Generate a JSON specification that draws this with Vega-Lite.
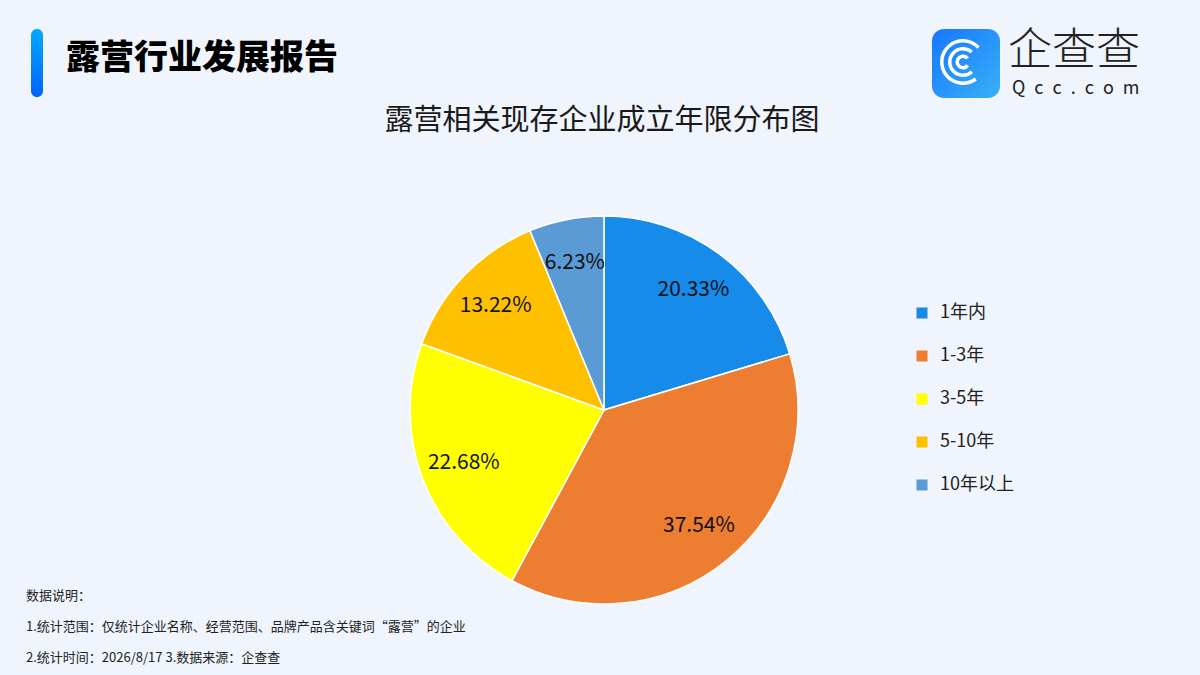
{
  "$schema": "https://vega.github.io/schema/vega-lite/v6.json",
  "width": 1200,
  "height": 675,
  "autosize": {"type": "fit", "contains": "padding"},
  "padding": 0,
  "background": "#F0F4FC",
  "config": {"view": {"stroke": null}, "font": "Noto Sans CJK SC"},
  "layer": [
    {
      "data": {"values": [
        {"idx": 1, "age": "1年内", "share": 0.2033},
        {"idx": 2, "age": "1-3年", "share": 0.3754},
        {"idx": 3, "age": "3-5年", "share": 0.2268},
        {"idx": 4, "age": "5-10年", "share": 0.1322},
        {"idx": 5, "age": "10年以上", "share": 0.0623}
      ]},
      "encoding": {
        "theta": {"field": "share", "type": "quantitative", "stack": true},
        "order": {"field": "idx", "type": "quantitative"}
      },
      "layer": [
        {
          "mark": {"type": "arc", "x": 603, "y": 409, "radius": 194, "stroke": "white", "strokeWidth": 1.5},
          "encoding": {
            "color": {
              "field": "age",
              "type": "nominal",
              "scale": {
                "domain": ["1年内", "1-3年", "3-5年", "5-10年", "10年以上"],
                "range": ["#168BEA", "#ED7D31", "#FFFF00", "#FFC000", "#5B9BD5"]
              },
              "legend": {
                "orient": "none",
                "legendX": 912,
                "legendY": 303,
                "title": null,
                "symbolType": "square",
                "symbolSize": 121,
                "symbolStrokeWidth": 0,
                "labelFontSize": 18,
                "labelColor": "#222222",
                "labelOffset": 9,
                "rowPadding": 25
              }
            }
          }
        },
        {
          "mark": {"type": "text", "x": 603, "y": 409, "radius": 150, "fontSize": 21, "color": "#111111"},
          "encoding": {
            "text": {"field": "share", "type": "quantitative", "format": ".2%"}
          }
        }
      ]
    },
    {
      "data": {"values": [{}]},
      "layer": [
        {
          "mark": {
            "type": "rect", "x": 30, "x2": 42, "y": 28, "y2": 96, "cornerRadius": 6,
            "fill": {"gradient": "linear", "x1": 0, "y1": 0, "x2": 0, "y2": 1,
              "stops": [{"offset": 0, "color": "#00A9FF"}, {"offset": 1, "color": "#0064FF"}]}
          }
        },
        {
          "mark": {"type": "text", "x": 65, "y": 58, "align": "left", "baseline": "middle",
            "text": "露营行业发展报告", "fontSize": 34, "fontWeight": 900, "color": "#000000"}
        },
        {
          "mark": {"type": "text", "x": 601, "y": 120, "align": "center", "baseline": "middle",
            "text": "露营相关现存企业成立年限分布图", "fontSize": 29, "color": "#1A1A1A"}
        },
        {
          "mark": {
            "type": "rect", "x": 931, "x2": 999, "y": 28, "y2": 97, "cornerRadius": 12,
            "fill": {"gradient": "linear", "x1": 0, "y1": 0, "x2": 1, "y2": 1,
              "stops": [{"offset": 0, "color": "#1577FF"}, {"offset": 1, "color": "#3BB0F5"}]}
          }
        },
        {
          "mark": {"type": "arc", "x": 962, "y": 61, "innerRadius": 19.5, "outerRadius": 23,
            "theta": 2.5, "theta2": 7.1, "fill": "white"}
        },
        {
          "mark": {"type": "arc", "x": 962, "y": 61, "innerRadius": 11.5, "outerRadius": 15,
            "theta": 2.4, "theta2": 7.0, "fill": "white"}
        },
        {
          "mark": {"type": "arc", "x": 962, "y": 61, "innerRadius": 4, "outerRadius": 7.5,
            "theta": 2.2, "theta2": 7.2, "fill": "white"}
        },
        {
          "mark": {"type": "rule", "x": 975, "y": 76, "x2": 985, "y2": 87,
            "stroke": "white", "strokeWidth": 3.5, "strokeCap": "round"},
          "encoding": {}
        },
        {
          "mark": {"type": "text", "x": 1007, "y": 51, "align": "left", "baseline": "middle",
            "text": "企查查", "fontSize": 44, "fontWeight": 300, "color": "#222222"}
        },
        {
          "mark": {"type": "text", "x": 1011, "y": 88, "align": "left", "baseline": "middle",
            "text": "Q\u2002c\u2002c\u2002.\u2002c\u2002o\u2002m", "fontSize": 18, "color": "#222222"}
        },
        {
          "mark": {"type": "text", "x": 25, "y": 589, "align": "left", "baseline": "top",
            "lineHeight": 31, "fontSize": 13, "color": "#222222",
            "text": ["数据说明：", "1.统计范围：仅统计企业名称、经营范围、品牌产品含关键词“露营”的企业", "2.统计时间：2026/8/17  3.数据来源：企查查"]}
        }
      ]
    }
  ]
}
